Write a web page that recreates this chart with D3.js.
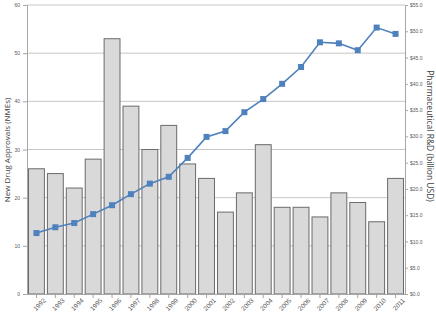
<!DOCTYPE html>
<html>
<head>
<meta charset="utf-8">
<script src="https://cdn.jsdelivr.net/npm/d3@7"></script>
<style>
  body { margin: 0; background: #fff; }
  svg { display: block; font-family: "Open Sans", Calibri, sans-serif; }
</style>
</head>
<body>
<svg id="chart" width="436" height="312"></svg>
<script>
var years = ["1992","1993","1994","1995","1996","1997","1998","1999","2000","2001",
             "2002","2003","2004","2005","2006","2007","2008","2009","2010","2011"];
var approvals = [26, 25, 22, 28, 53, 39, 30, 35, 27, 24, 17, 21, 31, 18, 18, 16, 21, 19, 15, 24];
var rdSpend = [11.6, 12.7, 13.5, 15.2, 16.9, 19.0, 21.0, 22.3, 25.9, 29.9,
               31.0, 34.6, 37.1, 40.0, 43.2, 47.9, 47.7, 46.4, 50.7, 49.5];
var leftTicks = [0, 10, 20, 30, 40, 50, 60];
var rightTicks = [0, 5, 10, 15, 20, 25, 30, 35, 40, 45, 50, 55];

var plotLeft = 27, plotRight = 405, plotTop = 5, plotBottom = 294;
var svg = d3.select("#chart");

var x = d3.scaleBand().domain(years).range([plotLeft, plotRight]).paddingInner(0.16).paddingOuter(0.08);
var yL = d3.scaleLinear().domain([0, 60]).range([plotBottom, plotTop]);
var yR = d3.scaleLinear().domain([0, 55]).range([plotBottom, plotTop]);

// gridlines
svg.append("g").selectAll("line").data(leftTicks.slice(1)).enter().append("line")
    .attr("x1", plotLeft).attr("x2", plotRight)
    .attr("y1", function(d) { return yL(d); }).attr("y2", function(d) { return yL(d); })
    .attr("stroke", "#c6c6c6").attr("stroke-width", 1);

// bars
svg.append("g").selectAll("rect").data(approvals).enter().append("rect")
    .attr("x", function(d, i) { return x(years[i]); })
    .attr("width", x.bandwidth())
    .attr("y", function(d) { return yL(d); })
    .attr("height", function(d) { return plotBottom - yL(d); })
    .attr("fill", "#d9d9d9")
    .attr("stroke", "#6b6b6b").attr("stroke-width", 1);

// left axis
var axL = svg.append("g").attr("transform", "translate(" + plotLeft + ",0)")
    .call(d3.axisLeft(yL).tickValues(leftTicks).tickSize(4).tickPadding(3));
// right axis
var axR = svg.append("g").attr("transform", "translate(" + plotRight + ",0)")
    .call(d3.axisRight(yR).tickValues(rightTicks).tickSize(3).tickPadding(2)
        .tickFormat(function(d) { return "$" + d.toFixed(1); }));
// bottom axis
var axB = svg.append("g").attr("transform", "translate(0," + plotBottom + ")")
    .call(d3.axisBottom(x).tickSize(4).tickSizeOuter(0).tickPadding(2));

[axL, axR, axB].forEach(function(a) {
    a.select(".domain").attr("stroke", "#a6a6a6");
    a.selectAll(".tick line").attr("stroke", "#a6a6a6");
    a.selectAll("text").attr("fill", "#595959").style("font-size", "5px");
});
axB.selectAll("text")
    .attr("text-anchor", "end")
    .attr("dx", "0.3em").attr("dy", "0.9em")
    .attr("transform", "rotate(-45)")
    .style("font-size", "6.5px");

// line series
var line = d3.line()
    .x(function(d, i) { return x(years[i]) + x.bandwidth() / 2; })
    .y(function(d) { return yR(d); });
svg.append("path").datum(rdSpend)
    .attr("d", line).attr("fill", "none")
    .attr("stroke", "#4f81bd").attr("stroke-width", 1.6);
svg.append("g").selectAll("rect").data(rdSpend).enter().append("rect")
    .attr("x", function(d, i) { return x(years[i]) + x.bandwidth() / 2 - 3; })
    .attr("y", function(d) { return yR(d) - 3; })
    .attr("width", 6).attr("height", 6)
    .attr("fill", "#4f81bd");

// axis titles
svg.append("text")
    .attr("transform", "translate(8,150) rotate(-90)")
    .attr("text-anchor", "middle").attr("dominant-baseline", "middle")
    .attr("fill", "#404040").style("font-size", "8px")
    .text("New Drug Approvals (NMEs)");
svg.append("text")
    .attr("transform", "translate(429,136) rotate(90)")
    .attr("text-anchor", "middle").attr("dominant-baseline", "middle")
    .attr("fill", "#404040").style("font-size", "8.5px")
    .text("Pharmaceutical R&D (billion USD)");
</script>
</body>
</html>
